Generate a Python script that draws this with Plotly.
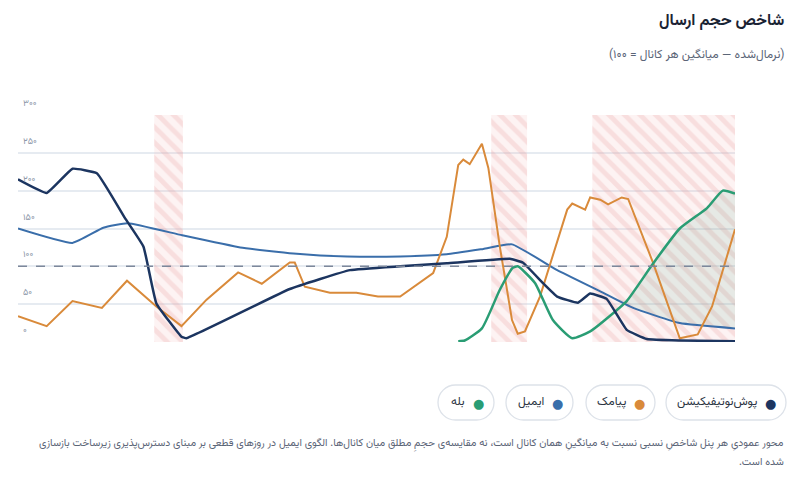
import numpy as np
import plotly.graph_objects as go

# days 0..100 along the hidden x axis, values are index (channel mean = 100)
push_x = [0, 4.0, 7.6, 11.0, 14.9, 17.5, 19.3, 22.8, 23.5, 37.9, 46.3, 53.3, 59.8, 68.6, 70.4, 73.2, 75.2, 78.1, 79.8, 82.1, 84.9, 87.7, 92.3, 100]
push_y = [215, 197, 229, 223, 164, 126, 51, 7, 5, 70, 95, 100, 104, 110, 105, 78, 60, 52, 64, 57, 16, 4, 2, 1]

email_x = [0, 7.6, 11.9, 15.3, 22.9, 31.0, 38.4, 45.9, 53.3, 59.8, 64.9, 68.9, 75.2, 81.2, 85.8, 92.3, 100]
email_y = [150, 131, 151, 157, 141, 125, 117, 113, 113, 116, 123, 129, 95, 67, 45, 25, 18]

sms_x = [0, 4.0, 7.6, 11.7, 15.2, 19.3, 22.8, 26.3, 30.7, 34.0, 37.9, 38.6, 40.0, 43.5, 47.2, 50.2, 53.3, 57.9, 59.8,
         61.4, 62.1, 63.0, 64.7, 65.6, 67.2, 68.9, 69.7, 70.7, 72.8, 76.6, 77.3, 79.1, 79.8, 81.2, 82.3, 84.2, 85.1,
         88.6, 92.3, 94.8, 96.8, 100]
sms_y = [34, 21, 54, 45, 81, 47, 21, 56, 92, 77, 105, 105, 73, 65, 65, 60, 60, 91, 139,
         234, 241, 235, 262, 230, 126, 29, 11, 14, 60, 175, 183, 175, 191, 188, 182, 191, 189,
         104, 5, 10, 47, 149]

yes_x = [61.4, 62.3, 64.7, 67.2, 69.0, 69.7, 72.1, 74.6, 77.3, 79.8, 83.0, 84.9, 88.6, 92.3, 96.1, 98.3, 100]
yes_y = [1, 2, 18, 69, 98, 100, 78, 29, 5, 14, 38, 54, 104, 150, 177, 200, 196]

# outage windows (hatched bands)
outage_start = [19.0, 66.0, 80.1]
outage_end = [23.0, 71.0, 100]

y_ticks = [0, 50, 100, 150, 200, 250, 300]
y_tick_labels = ["۰", "۵۰", "۱۰۰", "۱۵۰", "۲۰۰", "۲۵۰", "۳۰۰"]
mean_level = 100

channels = ["پوش‌نوتیفیکیشن", "پیامک", "ایمیل", "بله"]
channel_colors = ["#1c3560", "#d98a3a", "#3a6eaa", "#2a9d74"]

FONT = "Vazirmatn, 'Noto Sans Arabic', 'DejaVu Sans', sans-serif"
RTL = "\u202b{}\u202c"

# the page body has an 8px margin, so the figure is drawn 8px in from the window
OFF = 8
W, H = 802 - 2 * OFF, 478 - 2 * OFF
# plot area in window pixels
L, R, T, B = 18, 735, 115, 342


def px(x, y):
    # window pixel -> paper coords
    return (x - L) / (R - L), (B - y) / (B - T)


def pill_path(x0, x1, y0, y1):
    r = (y1 - y0) / 2
    k = 0.5523 * r
    pts = [
        ("M", [(x0 + r, y0)]),
        ("L", [(x1 - r, y0)]),
        ("C", [(x1 - r + k, y0), (x1, y0 + r - k), (x1, y0 + r)]),
        ("C", [(x1, y0 + r + k), (x1 - r + k, y1), (x1 - r, y1)]),
        ("L", [(x0 + r, y1)]),
        ("C", [(x0 + r - k, y1), (x0, y0 + r + k), (x0, y0 + r)]),
        ("C", [(x0, y0 + r - k), (x0 + r - k, y0), (x0 + r, y0)]),
    ]
    s = ""
    for cmd, ps in pts:
        s += cmd + " " + " ".join("%.5f,%.5f" % px(a, b) for a, b in ps) + " "
    return s + "Z"


fig = go.Figure()

# hatched outage bands
fig.add_trace(go.Bar(
    x=[(s + e) / 2 for s, e in zip(outage_start, outage_end)],
    y=[300] * len(outage_start),
    width=[e - s for s, e in zip(outage_start, outage_end)],
    marker=dict(
        color="rgba(255,255,255,0)",
        line_width=0,
        pattern=dict(shape="\\", fgcolor="rgba(232,145,145,0.42)", bgcolor="rgba(240,170,170,0.15)",
                     size=11, solidity=0.45, fillmode="overlay"),
    ),
    hoverinfo="skip", showlegend=False,
))

# light fill where the "yes" channel rises above email
email_at_yes = np.interp(yes_x, email_x, email_y)
upper = np.maximum(yes_y, email_at_yes)
fig.add_trace(go.Scatter(
    x=list(yes_x) + list(yes_x)[::-1],
    y=list(upper) + list(email_at_yes)[::-1],
    fill="toself", fillcolor="rgba(42,157,116,0.11)",
    line=dict(width=0), mode="lines", hoverinfo="skip", showlegend=False,
))

fig.add_trace(go.Scatter(x=email_x, y=email_y, mode="lines", name=channels[2],
                         line=dict(color=channel_colors[2], width=2, shape="spline", smoothing=0.4)))
fig.add_trace(go.Scatter(x=sms_x, y=sms_y, mode="lines", name=channels[1],
                         line=dict(color=channel_colors[1], width=2)))
fig.add_trace(go.Scatter(x=yes_x, y=yes_y, mode="lines", name=channels[3],
                         line=dict(color=channel_colors[3], width=2.5, shape="spline", smoothing=0.5)))
fig.add_trace(go.Scatter(x=push_x, y=push_y, mode="lines", name=channels[0],
                         line=dict(color=channel_colors[0], width=2.5, shape="spline", smoothing=0.3)))

shapes = [
    # reference line at the channel mean
    dict(type="line", xref="paper", yref="y", x0=0, x1=1, y0=mean_level, y1=mean_level,
         line=dict(color="#7d889b", width=1.5, dash="dash"), layer="above"),
]

annotations = []
for v, t in zip(y_ticks, y_tick_labels):
    annotations.append(dict(x=0.004, y=v, xref="paper", yref="y", text=t, showarrow=False,
                            xanchor="left", yanchor="bottom", yshift=2,
                            font=dict(size=9, color="#8c96a8", family=FONT)))

tx, ty = px(786, 22)
annotations.append(dict(x=tx, y=ty, xref="paper", yref="paper", text="<b>شاخص حجم ارسال</b>", showarrow=False,
                        xanchor="right", yanchor="middle", font=dict(size=16, color="#1a2333", family=FONT)))
tx, ty = px(786, 55)
annotations.append(dict(x=tx, y=ty, xref="paper", yref="paper", text=RTL.format("(نرمال‌شده — میانگین هر کانال = ۱۰۰)"),
                        showarrow=False, xanchor="right", yanchor="middle",
                        font=dict(size=12, color="#5b6577", family=FONT)))

# legend pills
pill_left = [666, 586, 506, 438]
pill_right = [786, 655, 573, 494]
for name, col, x0, x1 in zip(channels, channel_colors, pill_left, pill_right):
    shapes.append(dict(type="path", xref="paper", yref="paper", path=pill_path(x0, x1, 385, 420),
                       line=dict(color="#dde2e9", width=1.3), fillcolor="rgba(0,0,0,0)", layer="below"))
    dx, dy = px(x1 - 16, 403)
    annotations.append(dict(x=dx, y=dy, xref="paper", yref="paper", text="●", showarrow=False,
                            xanchor="center", yanchor="middle", font=dict(size=13, color=col, family="DejaVu Sans")))
    lx, ly = px(x1 - 27, 402)
    annotations.append(dict(x=lx, y=ly, xref="paper", yref="paper", text=name, showarrow=False,
                            xanchor="right", yanchor="middle", font=dict(size=12, color="#2b3442", family=FONT)))

note1 = "محور عمودیِ هر پنل شاخصِ نسبی نسبت به میانگینِ همان کانال است، نه مقایسه‌ی حجمِ مطلق میان کانال‌ها. الگوی ایمیل در روزهای قطعی بر مبنای دسترس‌پذیری زیرساخت بازسازی"
note2 = "شده است."
for text, yy in [(note1, 443), (note2, 462)]:
    nx, ny = px(786, yy)
    annotations.append(dict(x=nx, y=ny, xref="paper", yref="paper", text=RTL.format(text), showarrow=False,
                            xanchor="right", yanchor="middle", font=dict(size=10.5, color="#5b6577", family=FONT)))

fig.update_layout(
    width=W, height=H,
    margin=dict(l=L - OFF, r=W - (R - OFF), t=T - OFF, b=H - (B - OFF)),
    paper_bgcolor="white", plot_bgcolor="white",
    showlegend=False, barmode="overlay",
    font=dict(family=FONT),
    xaxis=dict(range=[0, 100], showgrid=False, zeroline=False, showticklabels=False, fixedrange=True),
    yaxis=dict(range=[0, 300], tickvals=y_ticks, showticklabels=False, gridcolor="#e6ebf1", gridwidth=1.5,
               zeroline=False, fixedrange=True),
    annotations=annotations,
    shapes=shapes,
)

fig.write_html("out.html", config={"displayModeBar": False})
